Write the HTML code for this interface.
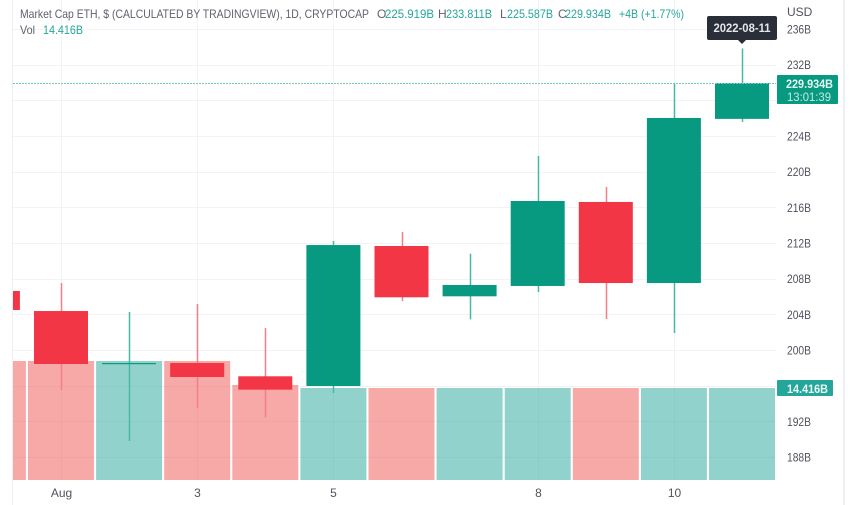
<!DOCTYPE html>
<html lang="en">
<head>
<meta charset="utf-8">
<title>Market Cap ETH candlestick chart</title>
<style>
  html, body { margin: 0; padding: 0; background: #fff; }
  body { width: 850px; height: 505px; overflow: hidden; }
  svg { display: block; filter: blur(0.35px); font-family: "Liberation Sans", sans-serif; }
</style>
</head>
<body>
<svg id="chart" xmlns="http://www.w3.org/2000/svg" width="850" height="505" viewBox="0 0 850 505">
  <defs>
    <clipPath id="pane-clip"><rect x="13" y="0" width="763" height="480"></rect></clipPath>
  </defs>
  <rect x="0" y="0" width="850" height="505" fill="#ffffff"></rect>
  <g id="grid" clip-path="url(#pane-clip)"></g>
  <g id="volumes" clip-path="url(#pane-clip)"></g>
  <g id="candles" clip-path="url(#pane-clip)"></g>
  <g id="price-line"></g>
  <line x1="12.5" y1="0" x2="12.5" y2="505" stroke="#eceef3" stroke-width="1"></line>
  <line x1="844" y1="0" x2="844" y2="505" stroke="#eff0f6" stroke-width="2"></line>
  <g id="y-axis"></g>
  <g id="x-axis"></g>

  <g font-size="12">
    <text x="20" y="18" fill="#5f626d" textLength="349" lengthAdjust="spacingAndGlyphs">Market Cap ETH, $ (CALCULATED BY TRADINGVIEW), 1D, CRYPTOCAP</text>
    <text x="377" y="18" fill="#5f626d">O</text>
    <text x="385" y="18" fill="#26a69a" textLength="49" lengthAdjust="spacingAndGlyphs">225.919B</text>
    <text x="438" y="18" fill="#5f626d">H</text>
    <text x="446" y="18" fill="#26a69a" textLength="46" lengthAdjust="spacingAndGlyphs">233.811B</text>
    <text x="500" y="18" fill="#5f626d">L</text>
    <text x="507" y="18" fill="#26a69a" textLength="46" lengthAdjust="spacingAndGlyphs">225.587B</text>
    <text x="558" y="18" fill="#5f626d">C</text>
    <text x="565" y="18" fill="#26a69a" textLength="46" lengthAdjust="spacingAndGlyphs">229.934B</text>
    <text x="619" y="18" fill="#26a69a" textLength="65" lengthAdjust="spacingAndGlyphs">+4B (+1.77%)</text>
    <text x="20" y="34" fill="#5f626d" textLength="15" lengthAdjust="spacingAndGlyphs">Vol</text>
    <text x="43" y="34" fill="#26a69a" textLength="40" lengthAdjust="spacingAndGlyphs">14.416B</text>
  </g>

  <text x="787" y="16" font-size="12" fill="#50535e">USD</text>

  <g>
    <rect x="707" y="16" width="70" height="24" rx="2" fill="#2a2e39"></rect>
    <polygon points="738,40 746,40 742,44" fill="#2a2e39"></polygon>
    <text x="742" y="32" font-size="12" font-weight="bold" fill="#e6e7ea" text-anchor="middle" textLength="57" lengthAdjust="spacingAndGlyphs">2022-08-11</text>
  </g>

  <g>
    <rect x="777" y="75" width="61" height="29" rx="1" fill="#089981"></rect>
    <text x="786" y="88" font-size="12" font-weight="bold" fill="#e8f6f3" textLength="47" lengthAdjust="spacingAndGlyphs">229.934B</text>
    <text x="787" y="101" font-size="12" fill="#c5e8e1" textLength="44" lengthAdjust="spacingAndGlyphs">13:01:39</text>
  </g>

  <g>
    <rect x="777" y="380" width="56" height="16" rx="1" fill="#26a69a"></rect>
    <text x="787" y="393" font-size="12" font-weight="bold" fill="#eaf7f5" textLength="41" lengthAdjust="spacingAndGlyphs">14.416B</text>
  </g>
</svg>

<script>
const days = ["Jul 31","Aug 1","Aug 2","Aug 3","Aug 4","Aug 5","Aug 6","Aug 7","Aug 8","Aug 9","Aug 10","Aug 11"];
const opens  = [206.62, 204.37, 198.43, 198.54, 197.05, 195.96, 211.66, 206.02, 207.18, 216.60, 207.51, 225.919];
const highs  = [206.62, 207.51, 204.26, 205.16, 202.47, 212.22, 213.23, 210.80, 221.76, 218.28, 229.83, 233.811];
const lows   = [204.49, 195.51, 189.79, 193.50, 192.45, 195.18, 205.49, 203.44, 206.50, 203.48, 201.91, 225.587];
const closes = [204.49, 198.43, 198.54, 196.97, 195.55, 211.77, 205.91, 207.29, 216.71, 207.51, 226.02, 229.934];
const volumes = [18.65, 18.65, 18.65, 18.65, 14.89, 14.416, 14.416, 14.416, 14.416, 14.416, 14.416, 14.416];
const volumeUp = [false, false, true, false, false, true, false, true, true, false, true, true];
const gridPrices = [188, 192, 196, 200, 204, 208, 212, 216, 220, 224, 228, 232, 236];
const priceTicks = [188, 192, 200, 204, 208, 212, 216, 220, 224, 232, 236];
const timeTickDays = ["Aug 1", "Aug 3", "Aug 5", "Aug 8", "Aug 10"];
const timeTickLabels = ["Aug", "3", "5", "8", "10"];
const lastPrice = 229.934;

const NS = "http://www.w3.org/2000/svg";
function xAt(i) { return 61 + (i - 1) * 68.1; }
function yAt(p) { return 457 - (p - 188) * 8.917; }
function volHeight(v) { return v * 6.38; }
function make(tag, parent, attrs) {
  const el = document.createElementNS(NS, tag);
  for (const k in attrs) el.setAttribute(k, attrs[k]);
  parent.appendChild(el);
  return el;
}

const gridG = document.getElementById("grid");
const volG = document.getElementById("volumes");
const candleG = document.getElementById("candles");
const yAxisG = document.getElementById("y-axis");
const xAxisG = document.getElementById("x-axis");
const priceLineG = document.getElementById("price-line");

gridPrices.forEach(function (p) {
  const y = Math.round(yAt(p)) + 0.5;
  const gl = make("line", gridG, { x1: 13, x2: 776, y1: y, y2: y, stroke: "#f2f3f6", "stroke-width": 1 });
  
  
});

timeTickDays.forEach(function (d, n) {
  const x = Math.round(xAt(days.indexOf(d))) + 0.5;
  const gl = make("line", gridG, { x1: x, x2: x, y1: 0, y2: 480, stroke: "#f2f3f6", "stroke-width": 1 });
  
  
  const lbl = make("text", xAxisG, { x: x, y: 497, "font-size": 12, fill: "#50535e", "text-anchor": "middle" });
  
  
  lbl.textContent = timeTickLabels[n];
});

priceTicks.forEach(function (p) {
  const lbl = make("text", yAxisG, { x: 787, y: yAt(p) + 4.5, "font-size": 12, fill: "#50535e", textLength: 24, lengthAdjust: "spacingAndGlyphs" });
  
  
  lbl.textContent = p + "B";
});

volumes.forEach(function (v, i) {
  const h = volHeight(v);
  const bar = make("rect", volG, {
    x: xAt(i) - 33, y: 480 - h, width: 66, height: h,
    fill: volumeUp[i] ? "rgba(38,166,154,0.5)" : "rgba(239,83,80,0.5)"
  });
  
  
});

days.forEach(function (d, i) {
  const up = closes[i] >= opens[i];
  const color = up ? "#089981" : "#f23645";
  const cx = Math.round(xAt(i)) + 0.5;
  const wick = make("line", candleG, {
    x1: cx, x2: cx, y1: yAt(highs[i]), y2: yAt(lows[i]),
    stroke: up ? "#45b9a3" : "#f47d88", "stroke-width": 1.5
  });
  
  
  const top = yAt(Math.max(opens[i], closes[i]));
  const bottom = yAt(Math.min(opens[i], closes[i]));
  const body = make("rect", candleG, {
    x: xAt(i) - 27, y: top, width: 54, height: Math.max(bottom - top, 1.2), fill: color
  });
  
  
});

const plY = Math.round(yAt(lastPrice)) + 0.5;
const pl = make("line", priceLineG, {
  x1: 13, x2: 776, y1: plY, y2: plY, stroke: "#6fcbbc", "stroke-width": 1, "stroke-dasharray": "2 1"
});


</script>
</body>
</html>
